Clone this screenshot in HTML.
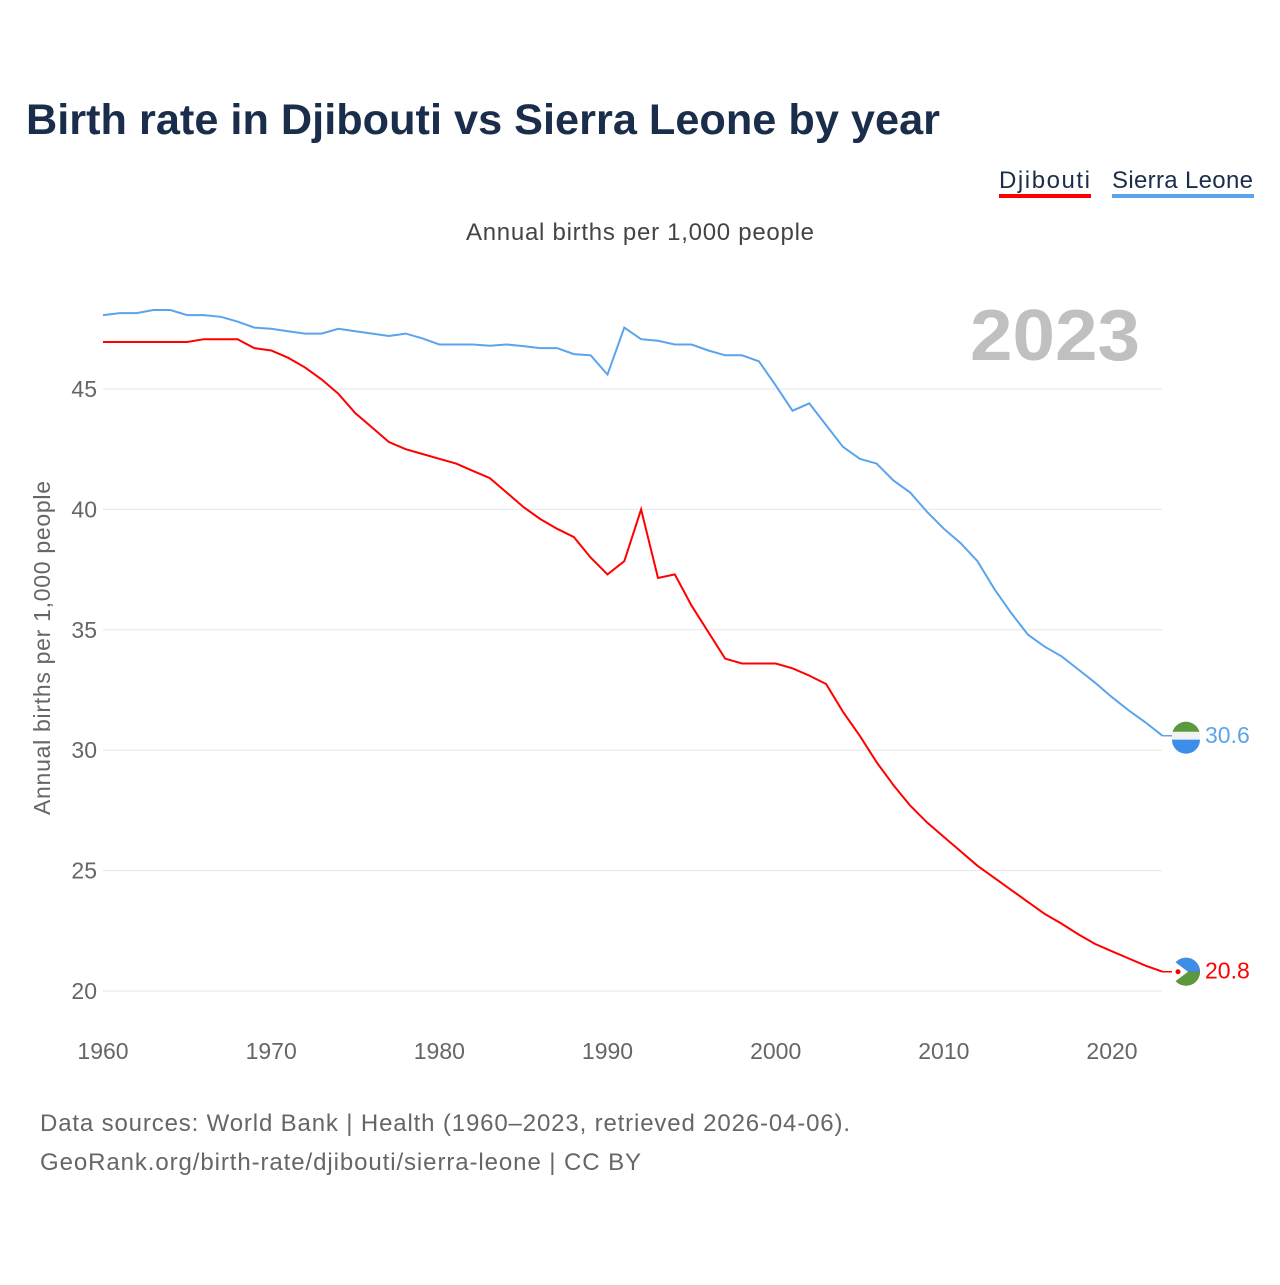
<!DOCTYPE html>
<html><head><meta charset="utf-8"><style>
body{margin:0;background:#fff;font-family:"Liberation Sans",sans-serif}
</style></head><body>
<svg id="c" width="1280" height="1280" xmlns="http://www.w3.org/2000/svg">
<text x="26" y="134" font-size="43" font-weight="bold" fill="#1a2e4c" textLength="914" lengthAdjust="spacingAndGlyphs">Birth rate in Djibouti vs Sierra Leone by year</text>
<g>
<text x="999" y="188" font-size="24" fill="#1a2e4c" textLength="91">Djibouti</text>
<rect x="999" y="194" width="92" height="4" fill="#ff0000"/>
<text x="1112" y="188" font-size="24" fill="#1a2e4c" textLength="141">Sierra Leone</text>
<rect x="1112" y="194" width="142" height="4" fill="#5ba4ec"/>
</g>
<text x="466" y="240" font-size="24" fill="#444" textLength="348">Annual births per 1,000 people</text>
<text x="1140" y="360" font-size="72" font-weight="bold" fill="#c0c0c0" text-anchor="end" textLength="170" lengthAdjust="spacingAndGlyphs">2023</text>
<text transform="translate(50,648) rotate(-90)" font-size="23" fill="#666" text-anchor="middle" textLength="334">Annual births per 1,000 people</text>
<g id="grid"></g><g id="xt"></g><g id="lines"></g>
<text x="40" y="1131" font-size="24" fill="#666" textLength="810">Data sources: World Bank | Health (1960–2023, retrieved 2026-04-06).</text>
<text x="40" y="1170" font-size="24" fill="#666" textLength="601">GeoRank.org/birth-rate/djibouti/sierra-leone | CC BY</text>
</svg>
<script>
const years=[];for(let y=1960;y<=2023;y++)years.push(y);
const djibouti=[46.95,46.95,46.95,46.95,46.95,46.95,47.07,47.07,47.07,46.7,46.6,46.3,45.9,45.4,44.8,44.0,43.4,42.8,42.5,42.3,42.1,41.9,41.6,41.3,40.7,40.1,39.6,39.2,38.85,38.0,37.3,37.85,40.0,37.15,37.3,36.0,34.9,33.8,33.6,33.6,33.6,33.4,33.1,32.75,31.6,30.6,29.5,28.55,27.7,27.0,26.4,25.8,25.2,24.7,24.2,23.7,23.2,22.8,22.35,21.95,21.65,21.35,21.05,20.8];
const sierraLeone=[48.07,48.15,48.15,48.28,48.28,48.07,48.07,48.0,47.8,47.55,47.5,47.4,47.3,47.3,47.5,47.4,47.3,47.2,47.3,47.1,46.85,46.85,46.85,46.8,46.85,46.78,46.7,46.7,46.45,46.4,45.6,47.55,47.07,47.0,46.85,46.85,46.6,46.4,46.4,46.15,45.15,44.1,44.4,43.5,42.6,42.1,41.9,41.2,40.7,39.9,39.2,38.6,37.85,36.7,35.7,34.8,34.3,33.9,33.35,32.8,32.2,31.65,31.15,30.6];
const yTicks=[20,25,30,35,40,45];
const xTicks=[1960,1970,1980,1990,2000,2010,2020];
const NS="http://www.w3.org/2000/svg";
const X=y=>103+(y-1960)*(1112-103)/60;
const Y=v=>991-(v-20)*24.08;
function mk(t,a,p){const e=document.createElementNS(NS,t);for(const k in a)e.setAttribute(k,a[k]);p.appendChild(e);return e;}
const g=document.getElementById('grid');
yTicks.forEach(v=>{const l=mk('line',{x1:103,x2:1162,y1:Y(v),y2:Y(v),stroke:'#e6e6e6','stroke-width':1},g);


const t=mk('text',{x:97,y:Y(v)+8,'font-size':23,fill:'#666','text-anchor':'end'},g);t.textContent=v;

});
const xt=document.getElementById('xt');
xTicks.forEach(v=>{const t=mk('text',{x:X(v),y:1059,'font-size':23,fill:'#666','text-anchor':'middle'},xt);t.textContent=v;

});
const L=document.getElementById('lines');
function series(d,col,name){
const p=mk('path',{d:d.map((v,i)=>(i?'L':'M')+X(years[i]).toFixed(1)+','+Y(v).toFixed(1)).join(''),fill:'none',stroke:col,'stroke-width':2},L);


const last=d[d.length-1],cy=Y(last);
mk('line',{x1:X(2023),x2:1180,y1:cy,y2:cy,stroke:col,'stroke-width':1.5},L);
const c=mk('circle',{cx:1186,cy:cy,r:14,fill:col},L);


const t=mk('text',{x:1205,y:cy+7,'font-size':23,fill:col},L);t.textContent=last.toFixed(1);


return cy;}
const cy1=series(djibouti,'#ff0000','djibouti');
const cy2=series(sierraLeone,'#5ba4ec','sierra-leone');
mk('path',{d:`M1172,${cy2} a14,14 0 0 1 28,0 z`,fill:'#5b9a3c'},L);
mk('rect',{x:1172,y:cy2-4,width:28,height:8,fill:'#f2f2f2'},L);
mk('path',{d:`M1172,${cy2+4} a14,14 0 0 0 28,0 z`,fill:'#3d8ee8'},L);
mk('path',{d:`M1172,${cy1} a14,14 0 0 1 28,0 z`,fill:'#3d8ee8'},L);
mk('path',{d:`M1172,${cy1} a14,14 0 0 0 28,0 z`,fill:'#5b9a3c'},L);
mk('path',{d:`M1172,${cy1-12} L1188,${cy1} L1172,${cy1+12} z`,fill:'#fff'},L);
mk('circle',{cx:1178,cy:cy1,r:2.5,fill:'#e00'},L);
</script>
</body></html>
